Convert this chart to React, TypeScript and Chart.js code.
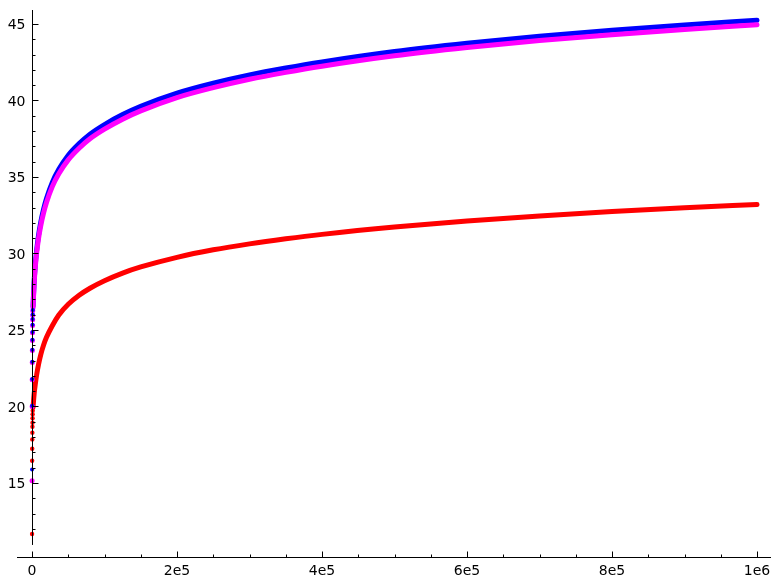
import React, { useEffect, useRef } from "react";
import { Chart, registerables } from "chart.js";

Chart.register(...registerables);

// Near-zero discrete points (x positions are tiny, they sit on the y axis)
const dotXs = [100, 200, 300, 400, 500, 600, 700, 800, 900, 1000, 1100];
const blueDots = [15.89, 20.05, 21.8, 22.93, 23.71, 24.37, 24.87, 25.35, 25.72, 26.02, 26.3];
const magentaDots = [15.15, 20.0, 21.75, 22.88, 23.66, 24.32, 24.82, 25.3, 25.67, 25.97, 26.25];
const redDots = [11.67, 16.45, 17.24, 17.85, 18.29, 18.68, 18.94, 19.23, 19.49, 19.73];

// Dense part of the curves, sampled along x
const curveXs = [
  1500, 2000, 3000, 4500, 6500, 9000, 12000, 16000, 20000, 28000, 37000, 50000,
  65000, 80000, 100000, 125000, 150000, 200000, 250000, 300000, 350000, 400000,
  500000, 600000, 700000, 800000, 900000, 1000000,
];
const blueCurve = [
  26.55, 27.2, 28.2, 29.25, 30.25, 31.18, 32.03, 32.9, 33.6, 34.65, 35.5, 36.42,
  37.18, 37.8, 38.43, 39.08, 39.62, 40.48, 41.13, 41.67, 42.12, 42.52,
  43.2, 43.74, 44.2, 44.59, 44.94, 45.25,
];
const magentaCurve = [
  26.45, 27.08, 28.06, 29.08, 30.06, 30.97, 31.8, 32.65, 33.33, 34.37, 35.21, 36.12,
  36.88, 37.5, 38.13, 38.78, 39.32, 40.19, 40.84, 41.39, 41.84, 42.24,
  42.92, 43.46, 43.92, 44.3, 44.64, 44.95,
];
const redCurve = [
  19.95, 20.3, 20.85, 21.45, 22.1, 22.75, 23.38, 24.02, 24.52, 25.28, 25.98, 26.68,
  27.27, 27.73, 28.22, 28.72, 29.12, 29.75, 30.24, 30.63, 30.96, 31.25,
  31.73, 32.12, 32.45, 32.74, 32.99, 33.21,
];

// Axis ticks
const xMajorTicks = [0, 200000, 400000, 600000, 800000, 1000000];
const xTickLabels = ["0", "2e5", "4e5", "6e5", "8e5", "1e6"];
const xMinorStep = 50000;
const yMajorTicks = [15, 20, 25, 30, 35, 40, 45];
const yTickLabels = ["15", "20", "25", "30", "35", "40", "45"];
const yMinorTicks = [12, 13, 14, 16, 17, 18, 19, 21, 22, 23, 24, 26, 27, 28, 29, 31, 32, 33, 34, 36, 37, 38, 39, 41, 42, 43, 44];

const X_MIN = -20690;
const X_MAX = 1019310;
const Y_MIN = 10.163;
const Y_MAX = 45.915;
const Y_AXIS_LOW = 10.95;

const BLUE = "#0000ff";
const MAGENTA = "#ff00ff";
const RED = "#ff0000";

const pts = (xs: number[], ys: number[]) => ys.map((y, i) => ({ x: xs[i], y }));

const axesPlugin = {
  id: "sageAxes",
  afterDatasetsDraw(chart: any) {
    const ctx = chart.ctx as CanvasRenderingContext2D;
    const xs = chart.scales.x;
    const ys = chart.scales.y;
    const area = chart.chartArea;
    ctx.save();
    ctx.strokeStyle = "#000000";
    ctx.fillStyle = "#000000";
    ctx.lineWidth = 1;
    const x0 = Math.round(xs.getPixelForValue(0)) + 0.5;
    const yBottom = Math.round(area.bottom) + 0.5;

    // y axis line
    ctx.beginPath();
    ctx.moveTo(x0, ys.getPixelForValue(Y_AXIS_LOW));
    ctx.lineTo(x0, area.top);
    ctx.stroke();

    // x axis line
    ctx.beginPath();
    ctx.moveTo(area.left, yBottom);
    ctx.lineTo(area.right, yBottom);
    ctx.stroke();

    // y ticks
    ctx.beginPath();
    yMajorTicks.forEach((v) => {
      const py = Math.round(ys.getPixelForValue(v)) + 0.5;
      ctx.moveTo(x0, py);
      ctx.lineTo(x0 + 6, py);
    });
    yMinorTicks.forEach((v) => {
      const py = Math.round(ys.getPixelForValue(v)) + 0.5;
      ctx.moveTo(x0, py);
      ctx.lineTo(x0 + 3, py);
    });
    // x ticks
    xMajorTicks.forEach((v) => {
      const px = Math.round(xs.getPixelForValue(v)) + 0.5;
      ctx.moveTo(px, yBottom);
      ctx.lineTo(px, yBottom - 6);
    });
    for (let v = 0; v <= X_MAX; v += xMinorStep) {
      if (v % 200000 === 0) continue;
      const px = Math.round(xs.getPixelForValue(v)) + 0.5;
      ctx.moveTo(px, yBottom);
      ctx.lineTo(px, yBottom - 3);
    }
    ctx.stroke();

    // labels
    ctx.font = '14px "DejaVu Sans"';
    ctx.textBaseline = "alphabetic";
    ctx.textAlign = "right";
    yMajorTicks.forEach((v, i) => {
      const py = ys.getPixelForValue(v);
      ctx.fillText(yTickLabels[i], x0 - 7, py + 5.2);
    });
    ctx.textAlign = "center";
    xMajorTicks.forEach((v, i) => {
      const px = xs.getPixelForValue(v);
      ctx.fillText(xTickLabels[i], px, yBottom + 17.5);
    });
    ctx.restore();
  },
};

export default function App() {
  const ref = useRef<HTMLCanvasElement | null>(null);
  useEffect(() => {
    document.body.style.margin = "0";
    const canvas = ref.current;
    if (!canvas) return;
    const lineDs = (label: string, ys: number[], color: string, order: number) => ({
      label,
      data: pts(curveXs, ys),
      showLine: true,
      borderColor: color,
      backgroundColor: color,
      borderWidth: 5,
      borderCapStyle: "round" as const,
      borderJoinStyle: "round" as const,
      cubicInterpolationMode: "monotone" as const,
      pointRadius: 0,
      order,
    });
    const dotDs = (label: string, ys: number[], color: string, r: number, order: number) => ({
      label,
      data: pts(dotXs, ys),
      showLine: false,
      borderColor: color,
      backgroundColor: color,
      borderWidth: 0,
      pointRadius: r,
      order,
    });
    const chart = new Chart(canvas, {
      type: "scatter",
      data: {
        datasets: [
          dotDs("blue points", blueDots, BLUE, 2, 0),
          dotDs("magenta points", magentaDots, MAGENTA, 2.5, 1),
          dotDs("red points", redDots, RED, 2.2, 2),
          lineDs("magenta", magentaCurve, MAGENTA, 3),
          lineDs("blue", blueCurve, BLUE, 4),
          lineDs("red", redCurve, RED, 5),
        ] as any,
      },
      options: {
        animation: false,
        responsive: false,
        devicePixelRatio: 1,
        layout: { padding: { left: 17, right: 10, top: 10, bottom: 27 } },
        scales: {
          x: { type: "linear", min: X_MIN, max: X_MAX, display: false },
          y: { type: "linear", min: Y_MIN, max: Y_MAX, display: false },
        },
        plugins: {
          legend: { display: false },
          tooltip: { enabled: false },
        },
        events: [],
      },
      plugins: [axesPlugin],
    });
    return () => chart.destroy();
  }, []);
  return (
    <div style={{ position: "absolute", left: 0, top: 0, width: 781, height: 584, background: "#ffffff" }}>
      <canvas ref={ref} width={781} height={584} style={{ display: "block" }} />
    </div>
  );
}
